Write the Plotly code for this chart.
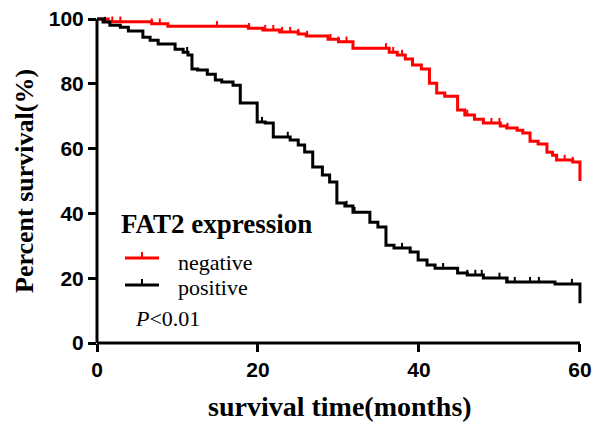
import numpy as np
import plotly.graph_objects as go

# ---- data ----
neg_event_t = [0, 1.4, 6.8, 8.8, 18.8, 20.6, 22.7, 25.0, 26.0, 28.7, 30.0, 31.8, 36.3, 37.3, 38.3,
               39.2, 40.3, 41.3, 42.2, 43.2, 44.8, 45.7, 46.9, 48.0, 50.1, 50.9, 52.2, 52.9, 53.8,
               54.8, 55.9, 56.6, 57.1, 59.1, 60.0]
neg_event_s = [100, 99.2, 98.6, 97.8, 97.2, 96.6, 96.0, 95.4, 94.8, 93.8, 93.0, 91.0, 89.8, 88.9, 87.7,
               85.8, 84.6, 80.2, 77.2, 76.2, 71.9, 70.4, 69.1, 67.9, 67.0, 66.4, 65.7, 64.8, 62.3,
               61.4, 58.9, 58.0, 56.5, 55.9, 50.0]
neg_censor_t = [1.9, 2.9, 6.8, 7.8, 14.9, 18.9, 20.9, 21.9, 23.0, 24.0, 25.0, 26.1, 29.0, 30.0, 31.0,
                35.9, 36.8, 37.9, 46.0, 48.0, 49.0, 50.0, 51.0, 58.1, 59.1]

pos_event_t = [0, 0.75, 1.6, 2.9, 3.9, 5.7, 6.6, 7.6, 9.7, 10.7, 11.3, 11.8, 12.5, 13.7, 14.7, 15.5,
               16.9, 17.8, 19.9, 20.9, 21.9, 24.0, 25.0, 25.8, 26.8, 28.0, 28.9, 29.8, 30.8, 31.8,
               33.9, 34.9, 35.9, 36.9, 38.9, 39.9, 41.0, 42.0, 44.8, 46.0, 48.0, 50.9, 56.9, 60.0]
pos_event_s = [100, 99.1, 98.1, 97.5, 96.3, 94.4, 93.5, 92.3, 90.7, 89.8, 88.9, 84.6, 84.3, 83.0, 81.2,
               80.6, 79.6, 74.1, 68.2, 67.9, 63.6, 62.7, 61.1, 59.0, 54.3, 51.9, 49.7, 43.2, 42.3,
               40.4, 37.3, 35.8, 30.2, 29.3, 28.1, 25.6, 24.1, 23.1, 21.6, 21.0, 20.1, 18.8, 18.2, 12.3]
pos_censor_t = [1.0, 11.2, 13.7, 20.5, 23.7, 31.0, 32.0, 37.9, 38.9, 43.0, 46.0, 47.0, 47.8, 50.0,
                51.0, 51.9, 53.8, 54.9, 59.0]

x_ticks = [0, 20, 40, 60]
y_ticks = [0, 20, 40, 60, 80, 100]

RED = "#ff0000"
BLACK = "#000000"
TICK_H = 1.6
SERIF = "Liberation Serif, Times New Roman, serif"
SANS = "Liberation Sans, Arial, sans-serif"


def censor_segments(ev_t, ev_s, c_t):
    ev_t = np.asarray(ev_t)
    ev_s = np.asarray(ev_s)
    xs, ys = [], []
    for t in c_t:
        idx = np.searchsorted(ev_t, t, side="right") - 1
        s = ev_s[max(idx, 0)]
        xs += [t, t, None]
        ys += [s, s + TICK_H, None]
    return xs, ys


fig = go.Figure()
for ev_t, ev_s, c_t, col, name in [
    (neg_event_t, neg_event_s, neg_censor_t, RED, "negative"),
    (pos_event_t, pos_event_s, pos_censor_t, BLACK, "positive"),
]:
    fig.add_trace(go.Scatter(x=ev_t, y=ev_s, mode="lines", line=dict(color=col, width=3, shape="hv"),
                             name=name, showlegend=False, hoverinfo="skip"))
    cx, cy = censor_segments(ev_t, ev_s, c_t)
    fig.add_trace(go.Scatter(x=cx, y=cy, mode="lines", line=dict(color=col, width=2),
                             showlegend=False, hoverinfo="skip"))

# page body has an 8px margin; figure is sized so it fills the 600x424 window
OFF = 8
W, H = 600 - OFF, 424 - OFF
L, R, T, B = 89, 12, 3, 81
pw = W - L - R
ph = H - T - B


def px_x(p):  # screen pixel -> paper
    return (p - OFF - L) / pw


def px_y(p):
    return (H - B - (p - OFF)) / ph


axis_common = dict(showline=False, showgrid=False, zeroline=False, ticks="outside", ticklen=8,
                   tickwidth=3, tickcolor="black", automargin=False, ticklabeloverflow="allow",
                   tickfont=dict(family=SANS, size=21, color="black", weight="bold"))
fig.update_xaxes(range=[0, 61], tickvals=x_ticks, **axis_common)
fig.update_yaxes(range=[0, 102.5], tickvals=y_ticks, **axis_common)

shapes = [
    dict(type="line", xref="x", yref="paper", x0=x_ticks[0], x1=x_ticks[-1], y0=0, y1=0,
         line=dict(color="black", width=3)),
    dict(type="line", xref="paper", yref="y", x0=0, x1=0, y0=y_ticks[0], y1=y_ticks[-1],
         line=dict(color="black", width=3)),
    # legend symbols
    dict(type="line", xref="paper", yref="paper", x0=px_x(125), x1=px_x(159), y0=px_y(258), y1=px_y(258),
         line=dict(color=RED, width=3)),
    dict(type="line", xref="paper", yref="paper", x0=px_x(142), x1=px_x(142), y0=px_y(258), y1=px_y(252),
         line=dict(color=RED, width=2)),
    dict(type="line", xref="paper", yref="paper", x0=px_x(125), x1=px_x(159), y0=px_y(285), y1=px_y(285),
         line=dict(color=BLACK, width=3)),
    dict(type="line", xref="paper", yref="paper", x0=px_x(142), x1=px_x(142), y0=px_y(285), y1=px_y(279),
         line=dict(color=BLACK, width=2)),
]

annotations = [
    dict(text="<b>FAT2 expression</b>", x=px_x(119), y=px_y(224), xanchor="left", yanchor="middle",
         font=dict(family=SERIF, size=27, color="black")),
    dict(text="negative", x=px_x(176), y=px_y(262), xanchor="left", yanchor="middle",
         font=dict(family=SERIF, size=22, color="black")),
    dict(text="positive", x=px_x(176), y=px_y(287), xanchor="left", yanchor="middle",
         font=dict(family=SERIF, size=22, color="black")),
    dict(text="<i>P</i><0.01", x=px_x(133), y=px_y(318), xanchor="left", yanchor="middle",
         font=dict(family=SERIF, size=22, color="black")),
    dict(text="<b>survival time(months)</b>", x=px_x(340), y=px_y(406), xanchor="center", yanchor="middle",
         font=dict(family=SERIF, size=28, color="black")),
    dict(text="<b>Percent survival(%)</b>", x=px_x(25), y=px_y(181), xanchor="center", yanchor="middle",
         textangle=-90, font=dict(family=SERIF, size=26, color="black")),
]
for a in annotations:
    a.update(xref="paper", yref="paper", showarrow=False)

fig.update_layout(width=W, height=H, margin=dict(l=L, r=R, t=T, b=B, pad=0, autoexpand=False),
                  paper_bgcolor="white", plot_bgcolor="white",
                  shapes=shapes, annotations=annotations)

fig.write_html("out.html")
